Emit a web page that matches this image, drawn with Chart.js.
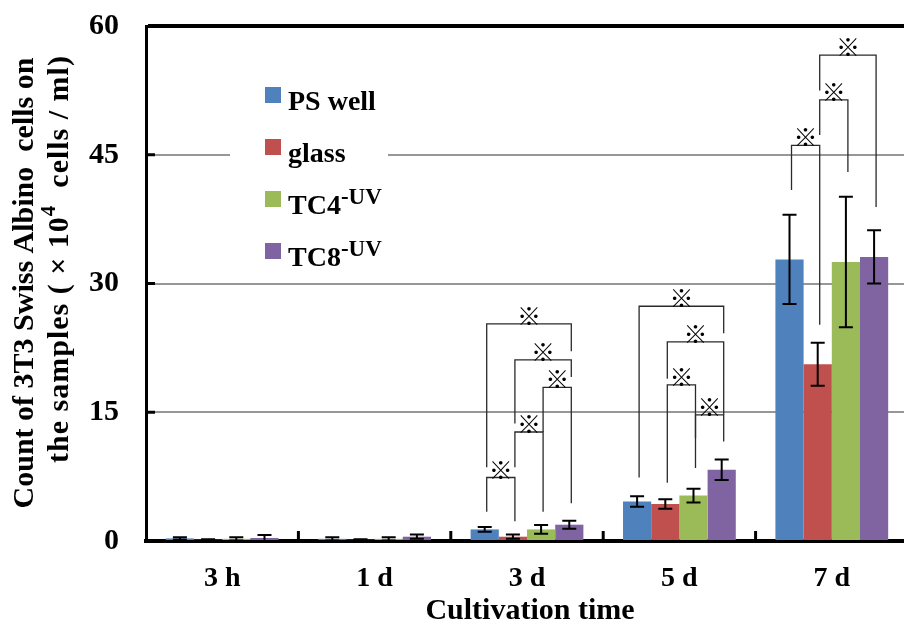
<!DOCTYPE html>
<html>
<head>
<meta charset="utf-8">
<script src="https://cdn.jsdelivr.net/npm/chart.js@4.4.1/dist/chart.umd.min.js"></script>
<style>
  html, body { margin: 0; padding: 0; background: #fff; overflow: hidden; }
  #wrap { width: 908px; height: 628px; }
</style>
</head>
<body>
<div id="wrap"><canvas id="cellChart" width="908" height="628"></canvas></div>
<script>
// cell counts (x10^4 cells / ml), mean and SD per cultivation time
const times = ["3 h", "1 d", "3 d", "5 d", "7 d"];
const seriesNames = ["PS well", "glass", "TC4", "TC8"];
const seriesColors = ["#4F81BD", "#C0504D", "#9BBB59", "#8064A2"];

const psWell = [0.3, 0.25, 1.35, 4.6, 32.8];
const glass = [0.15, 0.15, 0.5, 4.3, 20.6];
const tc4 = [0.25, 0.25, 1.35, 5.3, 32.5];
const tc8 = [0.35, 0.5, 1.9, 8.3, 33.1];

const psWellErr = [0.15, 0.2, 0.27, 0.6, 5.2];
const glassErr = [0.05, 0.05, 0.25, 0.55, 2.5];
const tc4Err = [0.2, 0.2, 0.5, 0.8, 7.6];
const tc8Err = [0.35, 0.25, 0.47, 1.2, 3.1];

const yTicks = [0, 15, 30, 45, 60];

// significance brackets: category, left/right series, top level, leg ends
const sigCategory = [2, 2, 2, 2, 2, 3, 3, 3, 3, 4, 4, 4];
const sigLeft     = [0, 1, 2, 1, 0, 0, 1, 1, 2, 0, 1, 1];
const sigRight    = [1, 2, 3, 3, 3, 3, 3, 2, 3, 1, 2, 3];
const sigTop      = [7.4, 12.7, 17.9, 21.1, 25.3, 27.35, 23.2, 18.2, 14.7, 46.1, 51.4, 56.6];
const sigLeftEnd  = [3.4, 8.6, 12.7, 13.7, 8.6, 7.4, 18.9, 6.8, 12.0, 40.9, 47.3, 52.5];
const sigRightEnd = [2.3, 3.4, 4.4, 19.1, 22.1, 24.2, 14.7, 8.5, 11.6, 25.2, 43.0, 38.9];

const allValues = [psWell, glass, tc4, tc8];
const allErrors = [psWellErr, glassErr, tc4Err, tc8Err];

const serif = "'Liberation Serif', 'Times New Roman', serif";

// draws runs of [text, fontSize, raise] one after another from x
function drawRuns(ctx, runs, x, y) {
    runs.forEach(([txt, size, raise]) => {
        ctx.font = "bold " + size + "px " + serif;
        ctx.fillText(txt, x, y - raise);
        x += ctx.measureText(txt).width;
    });
}

function runsWidth(ctx, runs) {
    let w = 0;
    runs.forEach(([txt, size]) => {
        ctx.font = "bold " + size + "px " + serif;
        w += ctx.measureText(txt).width;
    });
    return w;
}

const extrasPlugin = {
    id: "extras",
    afterDatasetsDraw(chart) {
        const ctx = chart.ctx;
        const y = chart.scales.y;

        // error bars
        ctx.save();
        ctx.strokeStyle = "#000";
        ctx.lineWidth = 2;
        allErrors.forEach((errs, d) => {
            const meta = chart.getDatasetMeta(d);
            meta.data.forEach((bar, i) => {
                const v = allValues[d][i];
                const top = y.getPixelForValue(v + errs[i]);
                const bot = y.getPixelForValue(Math.max(0, v - errs[i]));
                ctx.beginPath();
                ctx.moveTo(bar.x, top); ctx.lineTo(bar.x, bot);
                ctx.moveTo(bar.x - 7, top); ctx.lineTo(bar.x + 7, top);
                ctx.moveTo(bar.x - 7, bot); ctx.lineTo(bar.x + 7, bot);
                ctx.stroke();
            });
        });
        ctx.restore();

        // significance brackets
        ctx.save();
        ctx.strokeStyle = "#2a2a2a";
        ctx.lineWidth = 1.3;
        ctx.fillStyle = "#000";
        ctx.font = "24px 'Noto Sans CJK JP'";
        ctx.textAlign = "center";
        ctx.textBaseline = "bottom";
        sigCategory.forEach((c, k) => {
            const x1 = chart.getDatasetMeta(sigLeft[k]).data[c].x + 2;
            const x2 = chart.getDatasetMeta(sigRight[k]).data[c].x + 2;
            const yt = y.getPixelForValue(sigTop[k]);
            ctx.beginPath();
            ctx.moveTo(x1, y.getPixelForValue(sigLeftEnd[k]));
            ctx.lineTo(x1, yt);
            ctx.lineTo(x2, yt);
            ctx.lineTo(x2, y.getPixelForValue(sigRightEnd[k]));
            ctx.stroke();
            ctx.fillText("※", (x1 + x2) / 2, yt + 4);
        });
        ctx.restore();
    },
    afterDraw(chart) {
        const ctx = chart.ctx;
        const y = chart.scales.y;
        const x = chart.scales.x;
        const area = chart.chartArea;

        // inward tick marks
        ctx.save();
        ctx.strokeStyle = "#000";
        ctx.lineWidth = 3;
        yTicks.slice(1, -1).forEach(t => {
            const py = y.getPixelForValue(t);
            ctx.beginPath();
            ctx.moveTo(area.left, py); ctx.lineTo(area.left + 9, py);
            ctx.stroke();
        });
        for (let i = 1; i < times.length; i++) {
            const px = (x.getPixelForValue(i - 1) + x.getPixelForValue(i)) / 2;
            ctx.beginPath();
            ctx.moveTo(px, area.bottom); ctx.lineTo(px, area.bottom - 10);
            ctx.stroke();
        }
        ctx.restore();

        // legend box
        ctx.save();
        ctx.fillStyle = "#fff";
        ctx.fillRect(230, 72, 158, 195);
        ctx.textBaseline = "alphabetic";
        ctx.textAlign = "left";
        seriesNames.forEach((name, i) => {
            const cy = 95 + i * 52;
            ctx.fillStyle = seriesColors[i];
            ctx.fillRect(265, cy - 8, 16, 16);
            ctx.fillStyle = "#000";
            const runs = i >= 2 ? [[name, 28, 0], ["-UV", 23, 10]] : [[name, 28, 0]];
            drawRuns(ctx, runs, 288, cy + 15);
        });
        ctx.restore();

        // axis titles
        ctx.save();
        ctx.fillStyle = "#000";
        ctx.textAlign = "center";
        ctx.textBaseline = "middle";
        ctx.font = "bold 30px " + serif;
        ctx.fillText("Cultivation time", 530, 611);

        ctx.save();
        ctx.translate(25, 283);
        ctx.rotate(-Math.PI / 2);
        ctx.fillText("Count of 3T3 Swiss Albino  cells on", 0, 0);
        ctx.restore();

        ctx.save();
        ctx.translate(60, 259);
        ctx.rotate(-Math.PI / 2);
        ctx.textAlign = "left";
        ctx.letterSpacing = "1px";
        const line2 = [["the samples ( \u00d7 10", 30, 0], ["4", 21, 10], ["  cells / ml)", 30, 0]];
        drawRuns(ctx, line2, -runsWidth(ctx, line2) / 2, 0);
        ctx.restore();
        ctx.restore();
    }
};

const ctx = document.getElementById("cellChart").getContext("2d");
new Chart(ctx, {
    type: "bar",
    data: {
        labels: times,
        datasets: allValues.map((vals, i) => ({
            label: seriesNames[i],
            data: vals,
            backgroundColor: seriesColors[i],
            borderWidth: 0,
            categoryPercentage: 0.74,
            barPercentage: 1.0
        }))
    },
    options: {
        responsive: false,
        animation: false,
        layout: { padding: { top: 26, right: 0, left: 0, bottom: 0 } },
        plugins: {
            legend: { display: false },
            tooltip: { enabled: false }
        },
        scales: {
            x: {
                grid: { display: false, drawTicks: false },
                border: { display: true, color: "#000", width: 4 },
                ticks: {
                    color: "#000",
                    padding: 21,
                    font: { family: serif, size: 28, weight: "bold" }
                },
                afterFit: s => { s.height = 87; s.paddingLeft = 0; s.paddingRight = 0; }
            },
            y: {
                min: 0,
                max: 60,
                afterBuildTicks: s => { s.ticks = yTicks.map(v => ({ value: v })); },
                grid: {
                    drawTicks: false,
                    color: c => c.tick.value === 60 ? "#000" : (c.tick.value === 0 ? "rgba(0,0,0,0)" : "#979797"),
                    lineWidth: c => c.tick.value === 60 ? 4 : 2
                },
                border: { display: true, color: "#000", width: 3 },
                ticks: {
                    color: "#000",
                    padding: 27,
                    font: { family: serif, size: 30, weight: "bold" }
                },
                afterFit: s => { s.width = 146; s.paddingTop = 0; s.paddingBottom = 0; }
            }
        }
    },
    plugins: [extrasPlugin]
});
</script>
</body>
</html>
